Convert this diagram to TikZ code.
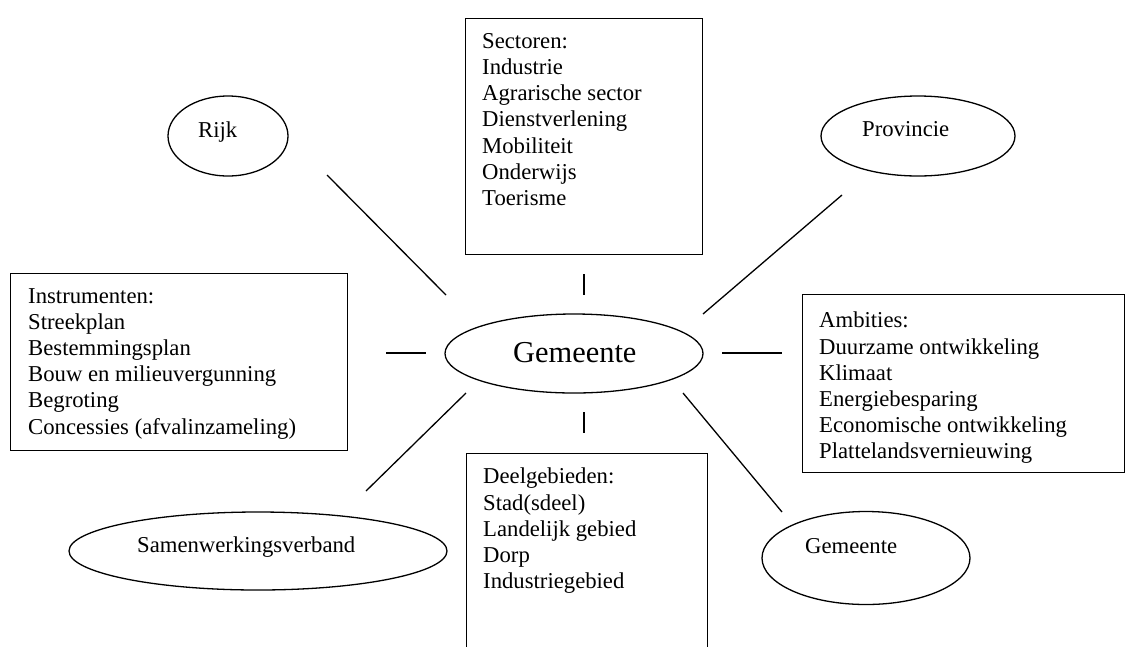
\documentclass[tikz,border=0pt]{standalone}
\usepackage{fontspec}
\setmainfont{Liberation Serif}
\usetikzlibrary{shapes.geometric}
\begin{document}
\begin{tikzpicture}[x=1pt,y=-1pt,
  box/.style={draw, line width=1.3pt, rectangle, inner sep=0pt, anchor=north west},
  oval/.style={draw, line width=1.3pt, ellipse, inner sep=0pt},
  txt/.style={inner sep=0pt, align=left, anchor=north west, font=\fontsize{22.7}{26.2}\selectfont},
  lbl/.style={inner sep=0pt, anchor=base west, font=\fontsize{22.7}{26.2}\selectfont},
  biglbl/.style={inner sep=0pt, anchor=base west, font=\fontsize{30.4}{35}\selectfont},
  link/.style={line width=1.3pt}]
\clip (0,0) rectangle (1126,646);
\fill[white] (0,0) rectangle (1126,646);

% boxes
\node[box, minimum width=237pt, minimum height=236pt] (sectorbox) at (465,18) {};
\node[txt] (sectortxt) at (482,33) {Sectoren:\\Industrie\\Agrarische sector\\Dienstverlening\\Mobiliteit\\Onderwijs\\Toerisme};

\node[box, minimum width=337pt, minimum height=177pt] (instrbox) at (10,273) {};
\node[txt] (instrtxt) at (28,288) {Instrumenten:\\Streekplan\\Bestemmingsplan\\Bouw en milieuvergunning\\Begroting\\Concessies (afvalinzameling)};

\node[box, minimum width=322pt, minimum height=178pt] (ambbox) at (802,294) {};
\node[txt] (ambtxt) at (819,312) {Ambities:\\Duurzame ontwikkeling\\Klimaat\\Energiebesparing\\Economische ontwikkeling\\Plattelandsvernieuwing};

\node[box, minimum width=241pt, minimum height=220pt] (deelbox) at (466,453) {};
\node[txt] (deeltxt) at (483,468) {Deelgebieden:\\Stad(sdeel)\\Landelijk gebied\\Dorp\\Industriegebied};

% ellipses
\node[oval, minimum width=120pt, minimum height=80pt] (rijk) at (228,136) {};
\node[lbl] (rijktxt) at (198,137) {Rijk};

\node[oval, minimum width=194pt, minimum height=80pt] (prov) at (918,136) {};
\node[lbl] (provtxt) at (862,136) {Provincie};

\node[oval, minimum width=378pt, minimum height=78pt] (samen) at (258,551) {};
\node[lbl] (samentxt) at (137,552) {Samenwerkingsverband};

\node[oval, minimum width=208pt, minimum height=93pt] (gem2) at (866,558) {};
\node[lbl] (gem2txt) at (805,553) {Gemeente};

\node[oval, minimum width=258pt, minimum height=79pt] (gem) at (574,353.5) {};
\node[biglbl] (gemtxt) at (513,362) {Gemeente};

% connector end points
\coordinate (a1) at (327,175); \coordinate (a2) at (446,295);
\coordinate (b1) at (584,274); \coordinate (b2) at (584,295);
\coordinate (c1) at (842,195); \coordinate (c2) at (703,314);
\coordinate (d1) at (386,353); \coordinate (d2) at (426,353);
\coordinate (e1) at (722,353); \coordinate (e2) at (782,353);
\coordinate (f1) at (466,393); \coordinate (f2) at (366,491);
\coordinate (g1) at (584,412); \coordinate (g2) at (584,433);
\coordinate (h1) at (683,393); \coordinate (h2) at (782,512);

\draw[link] (a1) -- (a2);
\draw[link] (b1) -- (b2);
\draw[link] (c1) -- (c2);
\draw[link] (d1) -- (d2);
\draw[link] (e1) -- (e2);
\draw[link] (f1) -- (f2);
\draw[link] (g1) -- (g2);
\draw[link] (h1) -- (h2);
\end{tikzpicture}
\end{document}
